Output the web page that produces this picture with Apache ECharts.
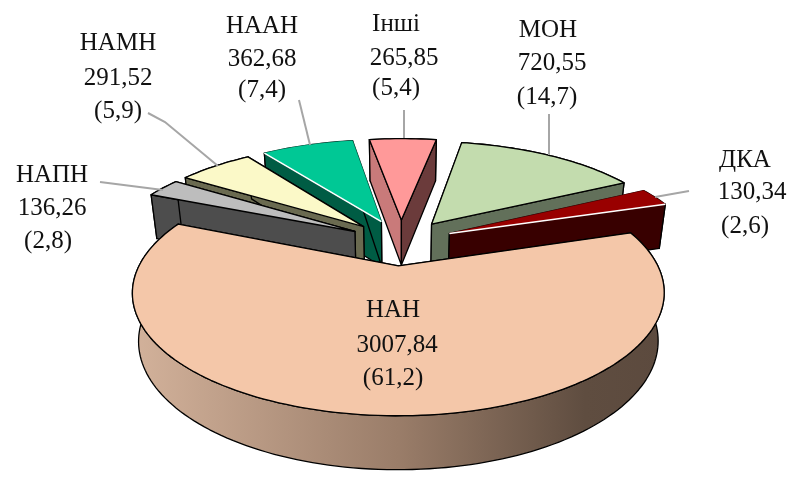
<!DOCTYPE html>
<html><head><meta charset="utf-8">
<style>html,body{margin:0;padding:0;background:#fff}#c{width:789px;height:478px}</style>
<script src="https://cdn.jsdelivr.net/npm/echarts@6/dist/echarts.min.js"></script>
</head><body><div id="c"></div>
<script>
// ---- data ----
const names = ['НАН','НАПН','НАМН','НААН','Інші','МОН','ДКА'];
const values = [3007.84,136.26,291.52,362.68,265.85,720.55,130.34];
const shares = ['61,2','2,8','5,9','7,4','5,4','14,7','2,6'];
// ---- styles ----
const topColors = ['#f4c7a9','#bdbdbd','#fbf9c8','#00c895','#ff9999','#c3dcae','#990000'];
const wallColors = ['#8a7060','#4d4d4d','#6a6a50','#005c44','#6b3b3b','#62705a','#380000'];
const wallColors2 = ['#8a7060','#4d4d4d','#6a6a50','#005c44','#c97a7a','#62705a','#380000'];
const labelCentres = [[[393,310],[397,345],[393,378]],[[52,175],[52,208],[48,241]],[[118,43],[118,78],[118,111]],
  [[262,26],[262,59],[262,90]],[[396,24],[404,58],[396,88]],[[548,30],[552,63],[547,97]],[[745,160],[752,192],[745,226]]];
const leaders = [null,[[100,182],[163,190]],[[148,113],[165,122],[218,166]],[[299,100],[310,145]],
  [[404,110],[404,138]],[[549,114],[549,155]],[[689,191],[655,197]]];
// ---- projection of the ground plane ----
const START = 72.5, EXPLODE = 0.2146, D = 4.556, F = 1182, A = 2428, YH = -267, X0 = 401;
const total = values.reduce((a,b)=>a+b,0);
let cum = START;
const arcs = values.map(v=>{const a=cum; cum+=v/total*360; return [a,cum];});
function proj(X,Y,low){
  const d=D-Y;
  if(!low) return [X0+F*X/d, YH+A/d];
  return [X0+0.977*F*X/d, YH+A/d+22.6+111.6/d];
}
function sliceShapes(i){
  const [a0,a1]=arcs[i], rad=Math.PI/180, mid=(a0+a1)/2*rad;
  const cx=EXPLODE*Math.sin(mid), cy=-EXPLODE-EXPLODE*Math.cos(mid);
  const pt=(t,low)=>proj(cx+Math.sin(t*rad),cy-Math.cos(t*rad),low);
  const n=Math.max(8,Math.ceil((a1-a0)/1.5)), topArc=[], lowArc=[];
  for(let k=0;k<=n;k++){const t=a0+(a1-a0)*k/n; topArc.push(pt(t,false)); lowArc.push(pt(t,true));}
  const apexT=proj(cx,cy,false), apexL=proj(cx,cy,true);
  const edge={stroke:'#000',lineWidth:1.3,lineJoin:'round'};
  const out=[];
  const arcFill = i===0 ? new echarts.graphic.LinearGradient(0,0,1,0,[{offset:0,color:'#d3b29b'},{offset:.5,color:'#9a7d69'},{offset:.85,color:'#5f4d40'},{offset:1,color:'#5c4a3e'}]) : wallColors[i];
  out.push({type:'polygon',shape:{points:topArc.concat(lowArc.slice().reverse())},style:Object.assign({fill:arcFill},edge)});
  out.push({type:'polygon',shape:{points:[apexT,topArc[0],lowArc[0],apexL]},style:Object.assign({fill:wallColors2[i]},edge)});
  out.push({type:'polygon',shape:{points:[apexT,topArc[n],lowArc[n],apexL]},style:Object.assign({fill:wallColors[i]},edge)});
  const soft = i===3||i===6;
  out.push({type:'polygon',shape:{points:[apexT].concat(topArc)},style:Object.assign({fill:topColors[i]},soft?{stroke:topColors[i],lineWidth:.5}:edge)});
  if(soft) out.push({type:'polyline',shape:{points:i===3?[apexT,topArc[0]]:[apexT,topArc[n]]},style:{stroke:'#fff',lineWidth:1.6,fill:null}});
  return out;
}
const order=values.map((v,i)=>i).sort((p,q)=>{
  const c=j=>Math.cos((arcs[j][0]+arcs[j][1])/2*Math.PI/180); return c(q)-c(p);});
const seriesData=order.map(i=>({name:names[i],value:[values[i],i]}));
const chart=echarts.init(document.getElementById('c'),null,{renderer:'canvas'});
chart.setOption({
  animation:false,
  backgroundColor:'#fff',
  series:[
   {type:'custom',coordinateSystem:'none',data:seriesData,silent:true,clip:false,
    renderItem:(p,api)=>({type:'group',children:sliceShapes(api.value(1))})},
   {type:'custom',coordinateSystem:'none',data:seriesData,silent:true,clip:false,z:5,
    renderItem:(p,api)=>{
      const i=api.value(1), kids=[];
      if(leaders[i]) kids.push({type:'polyline',shape:{points:leaders[i]},style:{stroke:'#a6a6a6',lineWidth:2,fill:null}});
      const txt=[names[i],values[i].toFixed(2).replace('.',','),'('+shares[i]+')'];
      txt.forEach((t,k)=>kids.push({type:'text',x:labelCentres[i][k][0],y:labelCentres[i][k][1],
        style:{text:t,fill:'#111',font:'25px "Liberation Serif"',align:'center',verticalAlign:'middle'}}));
      return {type:'group',children:kids};
    }}
  ]
});
</script></body></html>
